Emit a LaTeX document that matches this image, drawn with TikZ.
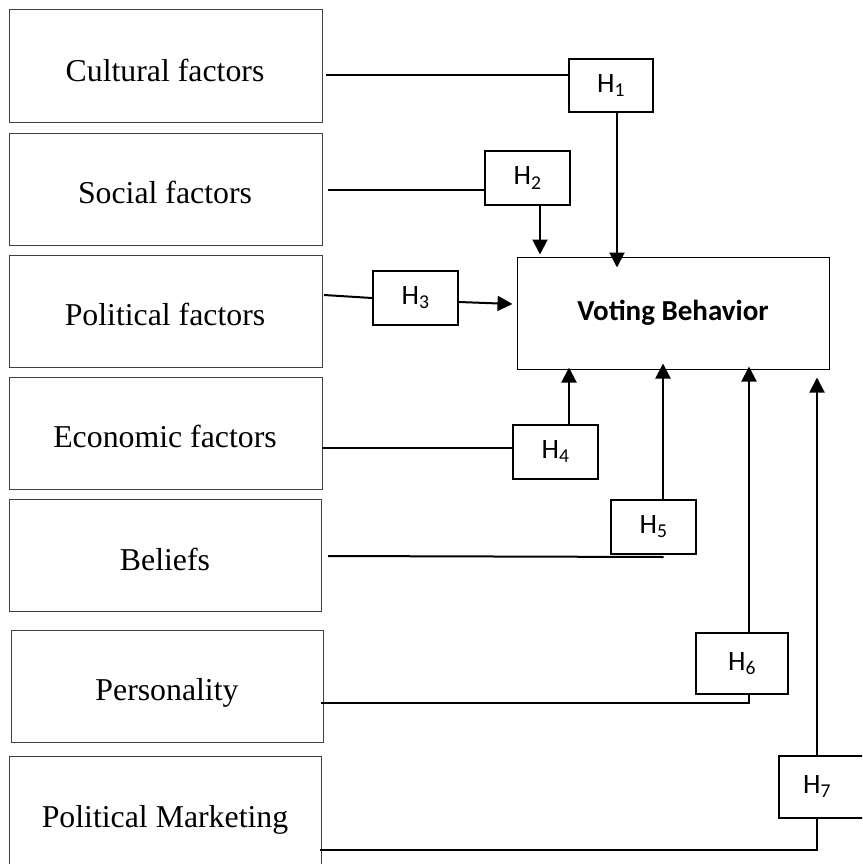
\documentclass[tikz,border=0pt]{standalone}
\usepackage{fontspec}
\setmainfont{Liberation Serif}
\newfontfamily\hfont{Carlito}
\usetikzlibrary{arrows.meta}
\begin{document}
\begin{tikzpicture}[x=1pt,y=-1pt,
  factor/.style={draw=black!75, line width=1pt, minimum width=313pt, minimum height=112pt, inner sep=0pt},
  ftext/.style={font=\fontsize{31.8}{36}\selectfont, anchor=base, inner sep=0pt},
  hbox/.style={draw, line width=2pt, minimum width=85pt, minimum height=54pt, inner sep=0pt, font=\hfont\fontsize{28}{32}\selectfont},
  vbox/.style={draw, line width=1pt, minimum width=312pt, minimum height=112pt, inner sep=0pt, font=\hfont\bfseries\fontsize{29}{34}\selectfont},
  conn/.style={line width=2pt},
  arr/.style={line width=2pt, -{Triangle[length=15pt,width=15pt]}},
]
\useasboundingbox (0,0) rectangle (862,864);
\clip (0,0) rectangle (862,864);

% factor boxes
\node[factor, minimum height=113pt] (cult) at (165.5,66.5) {};
\node[factor] (soc)  at (165.5,189) {};
\node[factor] (pol)  at (165.5,311) {};
\node[factor] (eco)  at (165.5,433) {};
\node[factor, minimum width=312pt] (bel)  at (165,555) {};
\node[factor, minimum width=312pt] (pers) at (167,686) {};
\node[factor, minimum width=312pt] (mark) at (165,812) {};

% factor texts
\node[ftext] (cultT) at (165,82) {Cultural factors};
\node[ftext] (socT)  at (165,203) {Social factors};
\node[ftext] (polT)  at (165,325) {Political factors};
\node[ftext] (ecoT)  at (165,447) {Economic factors};
\node[ftext] (belT)  at (165,570) {Beliefs};
\node[ftext] (persT) at (167,700) {Personality};
\node[ftext] (markT) at (165,827) {Political Marketing};

% outcome
\node[vbox] (vb) at (673,313) {Voting Behavior};

% hypothesis boxes
\node[hbox, minimum width=84pt, minimum height=53pt] (h1) at (611,85.5) {H\textsubscript{1}};
\node[hbox] (h2) at (527.5,178) {H\textsubscript{2}};
\node[hbox] (h3) at (415.5,298) {H\textsubscript{3}};
\node[hbox] (h4) at (555.5,452) {H\textsubscript{4}};
\node[hbox] (h5) at (653.5,527) {H\textsubscript{5}};
\node[hbox, minimum width=92pt, minimum height=61pt] (h6) at (742,663.5) {H\textsubscript{6}};
\node[hbox, minimum width=90pt, minimum height=62pt] (h7) at (824,787) {\hspace*{-14pt}H\textsubscript{7}};

% free line ends
\coordinate (c1) at (326,75);
\coordinate (c2) at (328,190);
\coordinate (c3) at (324,295);
\coordinate (c4) at (322,448);
\coordinate (c5) at (328,556);
\coordinate (c6) at (321,703);
\coordinate (c7) at (320,850);

% connectors
\draw[conn] (c1) -- (h1.west |- c1);
\draw[arr] ([xshift=6pt]h1.south) -- ([xshift=6pt,yshift=-11pt]h1.south |- vb.north);

\draw[conn] (c2) -- (h2.west |- c2);
\draw[arr] ([xshift=12.5pt]h2.south) -- ([xshift=12.5pt,yshift=2pt]h2.south |- vb.north);

\draw[conn] (c3) -- (h3.west);
\draw[arr] ([yshift=-4pt]h3.east) -- ([xshift=-4pt,yshift=-6pt]vb.west |- h3.east);

\draw[conn] (c4) -- (h4.west |- c4);
\draw[arr] ([xshift=13.5pt]h4.north) -- ([xshift=13.5pt,yshift=2pt]h4.north |- vb.south);

\draw[conn] (c5) -- ([xshift=10pt,yshift=-2pt]h5.south);
\draw[arr] ([xshift=9.5pt]h5.north) -- ([xshift=9.5pt,yshift=6pt]h5.north |- vb.south);

\draw[conn] (c6) -| ([xshift=7pt]h6.south);
\draw[arr] ([xshift=7pt]h6.north) -- ([xshift=7pt,yshift=3pt]h6.north |- vb.south);

\draw[conn] (c7) -| ([xshift=-7pt]h7.south);
\draw[arr] ([xshift=-7pt]h7.north) -- ([xshift=-7pt,yshift=-8pt]h7.north |- vb.south);
\end{tikzpicture}
\end{document}
